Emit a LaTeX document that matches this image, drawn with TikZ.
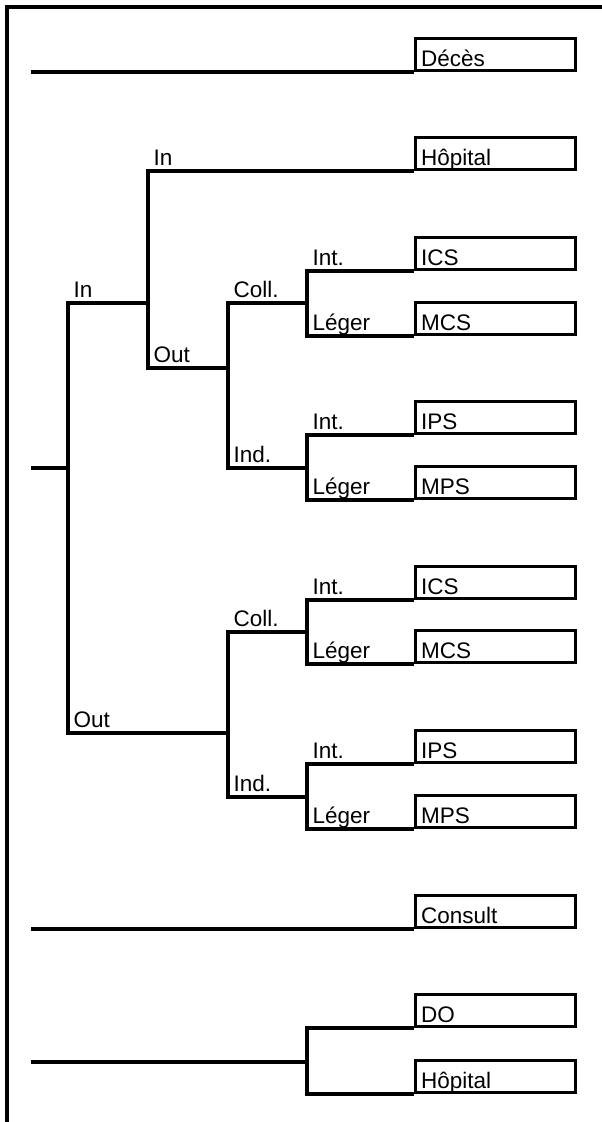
\documentclass[tikz,border=0pt]{standalone}
\usepackage{fontspec}
\setmainfont{Liberation Sans}
\begin{document}
\begin{tikzpicture}[x=1pt,y=-1pt,line width=3.2pt,line join=miter,
  txt/.style={font=\fontsize{22.5}{26}\selectfont},
  outbox/.style={txt,draw,line width=3.2pt,anchor=south west,inner xsep=5.5pt,inner ysep=0pt,
    text width=149pt,minimum height=32pt,text height=28pt,text depth=3pt,align=left},
  lbl/.style={txt,anchor=base west,inner sep=0pt}]
\useasboundingbox (0,0) rectangle (602,1122);
% frame
\coordinate (f1) at (7,1122); \coordinate (f2) at (7,7); \coordinate (f3) at (603,7);
\draw (f1) -- (f2) -- (f3);
% Deces
\node[outbox] (deces) at (414,72) {Décès};
\coordinate (s1) at (31,72);
\draw (s1) -- (deces.south west);
% main tree
\coordinate (r1) at (31,468); \coordinate (r1e) at (68,468);
\draw (r1) -- (r1e);
\coordinate (a) at (68,303); \coordinate (b) at (68,733);
\coordinate (ae) at (148,303); \coordinate (be) at (228,733);
\draw (ae) -- (a) -- (b) -- (be);
\node[lbl] at ([shift={(4pt,6pt)}]a) {In};
\node[lbl] at ([shift={(4pt,6pt)}]b) {Out};
% In branch
\node[outbox] (hop1) at (414,171) {Hôpital};
\coordinate (c) at (148,171); \coordinate (d) at (148,368); \coordinate (de) at (230,368);
\draw (hop1.south west) -- (c) -- (d) -- (de);
\node[lbl] at ([shift={(4pt,6pt)}]c) {In};
\node[lbl] at ([shift={(4pt,6pt)}]d) {Out};
% group 1
\coordinate (coll1) at (228,303); \coordinate (ind1) at (228,468);
\coordinate (coll1e) at (307,303); \coordinate (ind1e) at (307,468);
\draw (coll1e) -- (coll1) -- (ind1) -- (ind1e);
\node[lbl] at ([shift={(4pt,6pt)}]coll1) {Coll.};
\node[lbl] at ([shift={(4pt,6pt)}]ind1) {Ind.};
\node[outbox] (ics1) at (414,271) {ICS};
\node[outbox] (mcs1) at (414,336) {MCS};
\coordinate (p1) at (307,271); \coordinate (q1) at (307,336);
\draw (ics1.south west) -- (p1) -- (q1) -- (mcs1.south west);
\node[lbl] at ([shift={(4pt,6pt)}]p1) {Int.};
\node[lbl] at ([shift={(4pt,6pt)}]q1) {Léger};
\node[outbox] (ips1) at (414,435) {IPS};
\node[outbox] (mps1) at (414,500) {MPS};
\coordinate (p2) at (307,435); \coordinate (q2) at (307,500);
\draw (ips1.south west) -- (p2) -- (q2) -- (mps1.south west);
\node[lbl] at ([shift={(4pt,6pt)}]p2) {Int.};
\node[lbl] at ([shift={(4pt,6pt)}]q2) {Léger};
% group 2
\coordinate (coll2) at (228,632); \coordinate (ind2) at (228,797);
\coordinate (coll2e) at (307,632); \coordinate (ind2e) at (307,797);
\draw (coll2e) -- (coll2) -- (ind2) -- (ind2e);
\node[lbl] at ([shift={(4pt,6pt)}]coll2) {Coll.};
\node[lbl] at ([shift={(4pt,6pt)}]ind2) {Ind.};
\node[outbox] (ics2) at (414,600) {ICS};
\node[outbox] (mcs2) at (414,664) {MCS};
\coordinate (p3) at (307,600); \coordinate (q3) at (307,664);
\draw (ics2.south west) -- (p3) -- (q3) -- (mcs2.south west);
\node[lbl] at ([shift={(4pt,6pt)}]p3) {Int.};
\node[lbl] at ([shift={(4pt,6pt)}]q3) {Léger};
\node[outbox] (ips2) at (414,764) {IPS};
\node[outbox] (mps2) at (414,829) {MPS};
\coordinate (p4) at (307,764); \coordinate (q4) at (307,829);
\draw (ips2.south west) -- (p4) -- (q4) -- (mps2.south west);
\node[lbl] at ([shift={(4pt,6pt)}]p4) {Int.};
\node[lbl] at ([shift={(4pt,6pt)}]q4) {Léger};
% Consult
\node[outbox] (consult) at (414,929) {Consult};
\coordinate (s2) at (31,929);
\draw (s2) -- (consult.south west);
% DO / Hopital
\node[outbox] (do) at (414,1028) {DO};
\node[outbox] (hop2) at (414,1094) {Hôpital};
\coordinate (r3) at (31,1062); \coordinate (r3e) at (307,1062);
\draw (r3) -- (r3e);
\coordinate (p5) at (307,1028); \coordinate (q5) at (307,1094);
\draw (do.south west) -- (p5) -- (q5) -- (hop2.south west);
\end{tikzpicture}
\end{document}
